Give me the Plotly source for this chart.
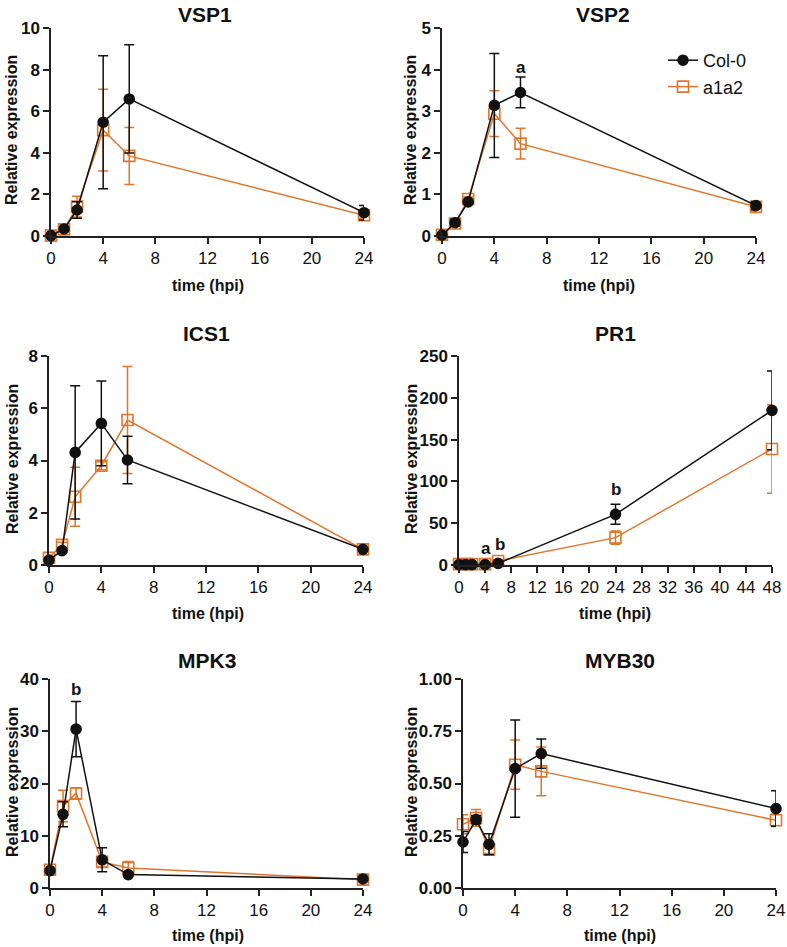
import plotly.graph_objects as go

OFF = 0
W, H = 787, 947
BLACK = "#111111"
ORANGE = "#E0762B"
FONT = "Liberation Sans, Arial, sans-serif"

# ---------------- data ----------------
hours = [0, 1, 2, 4, 6, 24]
hours_pr1 = [0, 1, 2, 4, 6, 24, 48]

vsp1_col = [0.02, 0.34, 1.25, 5.47, 6.59, 1.12]
vsp1_col_err = [0.05, 0.08, 0.40, 3.20, 2.60, 0.35]
vsp1_a1a2 = [0.02, 0.32, 1.41, 5.09, 3.85, 1.00]
vsp1_a1a2_err = [0.05, 0.10, 0.50, 1.96, 1.37, 0.15]

vsp2_col = [0.02, 0.32, 0.82, 3.14, 3.45, 0.73]
vsp2_col_err = [0.02, 0.08, 0.05, 1.25, 0.37, 0.10]
vsp2_a1a2 = [0.03, 0.30, 0.89, 2.94, 2.22, 0.70]
vsp2_a1a2_err = [0.02, 0.05, 0.05, 0.55, 0.37, 0.10]

ics1_col = [0.19, 0.55, 4.31, 5.42, 4.02, 0.60]
ics1_col_err = [0.05, 0.10, 2.55, 1.62, 0.91, 0.05]
ics1_a1a2 = [0.28, 0.77, 2.61, 3.80, 5.55, 0.60]
ics1_a1a2_err = [0.05, 0.10, 1.13, 0.15, 2.05, 0.05]

pr1_col = [0.5, 0.5, 0.5, 0.5, 2.0, 60.6, 185.0]
pr1_col_err = [0.3, 0.3, 0.3, 0.5, 1.0, 12.0, 47.0]
pr1_a1a2 = [1.0, 1.0, 1.0, 1.0, 4.8, 32.7, 138.8]
pr1_a1a2_err = [0.5, 0.5, 0.5, 0.5, 1.5, 8.0, 53.0]

mpk3_col = [3.33, 14.1, 30.4, 5.4, 2.56, 1.73]
mpk3_col_err = [0.3, 2.4, 5.3, 2.3, 0.3, 0.2]
mpk3_a1a2 = [3.5, 15.7, 18.1, 5.0, 3.85, 1.6]
mpk3_a1a2_err = [0.4, 3.0, 1.1, 1.0, 1.2, 0.3]

myb30_col = [0.220, 0.327, 0.209, 0.571, 0.643, 0.380]
myb30_col_err = [0.050, 0.020, 0.050, 0.233, 0.070, 0.085]
myb30_a1a2 = [0.305, 0.335, 0.185, 0.590, 0.558, 0.324]
myb30_a1a2_err = [0.045, 0.040, 0.020, 0.118, 0.117, 0.030]

gene_names = ["VSP1", "VSP2", "ICS1", "PR1", "MPK3", "MYB30"]
y_ranges = [[0, 10], [0, 5], [0, 8], [0, 250], [0, 40], [0, 1]]
y_dticks = [2, 1, 2, 50, 10, 0.25]
x_ranges = [[0, 24], [0, 24], [0, 24], [0, 48], [0, 24], [0, 24]]
x_tick_labels_24 = [0, 4, 8, 12, 16, 20, 24]
x_tick_labels_48 = [0, 4, 8, 12, 16, 20, 24, 28, 32, 36, 40, 44, 48]

sig_labels = [  # (panel index, x, y, text)
    (1, 6, 4.06, "a"),
    (3, 4.1, 20, "a"),
    (3, 6.3, 24, "b"),
    (3, 24, 90, "b"),
    (4, 2, 37.9, "b"),
]

panels = [
    (hours, vsp1_col, vsp1_col_err, vsp1_a1a2, vsp1_a1a2_err),
    (hours, vsp2_col, vsp2_col_err, vsp2_a1a2, vsp2_a1a2_err),
    (hours, ics1_col, ics1_col_err, ics1_a1a2, ics1_a1a2_err),
    (hours_pr1, pr1_col, pr1_col_err, pr1_a1a2, pr1_a1a2_err),
    (hours, mpk3_col, mpk3_col_err, mpk3_a1a2, mpk3_a1a2_err),
    (hours, myb30_col, myb30_col_err, myb30_a1a2, myb30_a1a2_err),
]

# ---------------- layout geometry (window pixels) ----------------
px_x = [(51, 364), (442, 756), (49, 363), (459, 772), (50, 363), (463, 776)]
px_y = [(28, 236), (28, 236), (356, 565), (356, 565), (679, 888), (679, 888)]
title_pos = [(205, 14), (603, 14), (206, 334), (615, 334), (207, 660), (620, 660)]
xlabel_pos = [(208, 285), (599, 285), (208, 613), (615, 613), (208, 935), (620, 935)]
ylabel_pos = [(12, 130), (411, 130), (12, 459), (411, 459), (12, 782), (411, 782)]


def fx(p):
    return (p - OFF) / W


def fy(p):
    return 1 - (p - OFF) / H


fig = go.Figure()
layout = {}
annotations = []


def ann(x, y, text, size, angle=0):
    return dict(x=fx(x), y=fy(y), xref="paper", yref="paper",
                xanchor="center", yanchor="middle", text=text,
                showarrow=False, textangle=angle,
                font=dict(family=FONT, size=size, color="#111"))


for i, (xs, col, col_err, a12, a12_err) in enumerate(panels):
    n = "" if i == 0 else str(i + 1)
    xa, ya = "x" + n, "y" + n
    for name, vals, errs, color, sym, size, rank in [
        ("a1a2", a12, a12_err, ORANGE, "square-open", 11, 2),
        ("Col-0", col, col_err, BLACK, "circle", 10, 1),
    ]:
        fig.add_trace(go.Scatter(
            x=xs, y=vals, mode="lines+markers", name=name,
            xaxis=xa, yaxis=ya, cliponaxis=False,
            showlegend=(i == 1), legendrank=rank,
            line=dict(color=color, width=1.5),
            marker=dict(symbol=sym, size=size, color=color,
                        line=dict(color=color, width=1.6)),
            error_y=dict(type="data", array=errs, visible=True,
                         color=color, thickness=1.5, width=5),
        ))
    x0, x1 = px_x[i]
    y0, y1 = px_y[i]
    common = dict(showgrid=False, zeroline=False, showline=True,
                  linecolor="#222", linewidth=1.5, ticks="outside",
                  ticklen=6, tickwidth=1.5, tickcolor="#222", automargin=False,
                  tickprefix="<b>", ticksuffix="</b>",
                  tickfont=dict(family=FONT, size=17, color="#111"))
    tvals = x_tick_labels_48 if x_ranges[i][1] == 48 else x_tick_labels_24
    layout["xaxis" + n] = dict(
        domain=[fx(x0), fx(x1)], range=x_ranges[i], anchor=ya,
        tickvals=tvals, **common)
    layout["yaxis" + n] = dict(
        domain=[fy(y1), fy(y0)], range=y_ranges[i], anchor=xa,
        dtick=y_dticks[i], tick0=0,
        tickformat=".2f" if i == 5 else "d", **common)
    tx, ty = title_pos[i]
    annotations.append(ann(tx, ty, "<b>%s</b>" % gene_names[i], 21))
    lx, ly = xlabel_pos[i]
    annotations.append(ann(lx, ly, "<b>time (hpi)</b>", 16))
    yx, yy = ylabel_pos[i]
    annotations.append(ann(yx, yy, "<b>Relative expression</b>", 16, -90))

for (pi, sx, sy, txt) in sig_labels:
    n = "" if pi == 0 else str(pi + 1)
    annotations.append(dict(x=sx, y=sy, xref="x" + n, yref="y" + n,
                            xanchor="center", yanchor="middle",
                            text="<b>%s</b>" % txt, showarrow=False,
                            font=dict(family=FONT, size=17, color="#111")))

fig.update_layout(
    width=W, height=H, margin=dict(l=0, r=0, t=0, b=0, autoexpand=False),
    paper_bgcolor="white", plot_bgcolor="white",
    showlegend=True,
    legend=dict(x=fx(663), y=fy(42), xanchor="left", yanchor="top",
                font=dict(family=FONT, size=18, color="#111"),
                bgcolor="rgba(0,0,0,0)", itemwidth=30,
                tracegroupgap=0),
    annotations=annotations,
    **layout,
)

# remove the browser's default 8px page margin so the figure fills the window
fig.write_html("out.html",
               config={"displayModeBar": False},
               post_script="document.body.style.margin='0';")
